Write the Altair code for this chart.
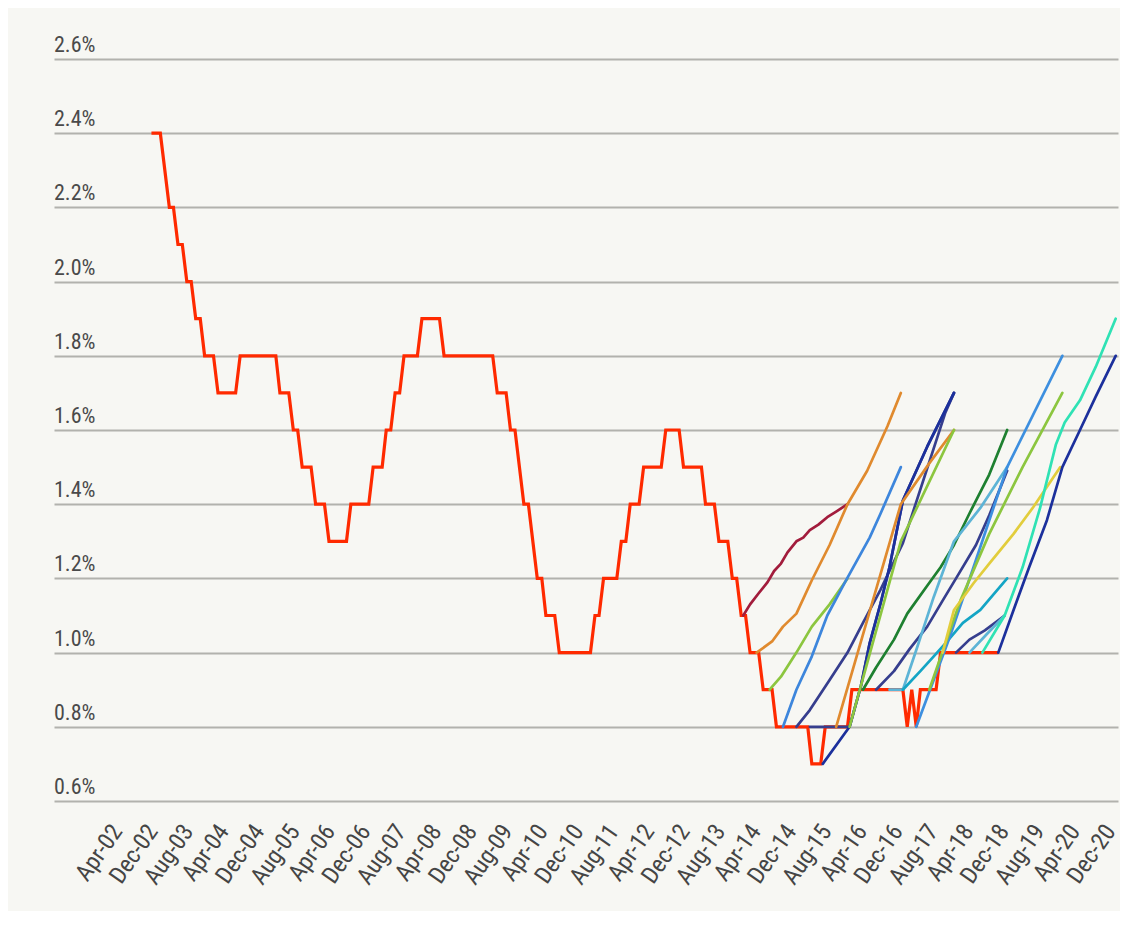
import altair as alt
import pandas as pd

# ---------------- axis values ----------------
y_ticks = [0.6, 0.8, 1.0, 1.2, 1.4, 1.6, 1.8, 2.0, 2.2, 2.4, 2.6]
y_tick_labels = ["0.6%", "0.8%", "1.0%", "1.2%", "1.4%", "1.6%", "1.8%", "2.0%", "2.2%", "2.4%", "2.6%"]

x_label_dates = ["2002-04-01", "2002-12-01", "2003-08-01", "2004-04-01", "2004-12-01", "2005-08-01",
                 "2006-04-01", "2006-12-01", "2007-08-01", "2008-04-01", "2008-12-01", "2009-08-01",
                 "2010-04-01", "2010-12-01", "2011-08-01", "2012-04-01", "2012-12-01", "2013-08-01",
                 "2014-04-01", "2014-12-01", "2015-08-01", "2016-04-01", "2016-12-01", "2017-08-01",
                 "2018-04-01", "2018-12-01", "2019-08-01", "2020-04-01", "2020-12-01"]

# ---------------- actual series (red step line, vertices) ----------------
actual_dates = ["2002-10-01", "2002-12-01", "2003-02-01", "2003-03-01", "2003-04-01", "2003-05-01",
                "2003-06-01", "2003-07-01", "2003-08-01", "2003-09-01", "2003-10-01", "2003-12-01",
                "2004-01-01", "2004-05-01", "2004-06-01", "2005-02-01", "2005-03-01", "2005-05-01",
                "2005-06-01", "2005-07-01", "2005-08-01", "2005-10-01", "2005-11-01", "2006-01-01",
                "2006-02-01", "2006-06-01", "2006-07-01", "2006-11-01", "2006-12-01", "2007-02-01",
                "2007-03-01", "2007-04-01", "2007-05-01", "2007-06-01", "2007-07-01", "2007-10-01",
                "2007-11-01", "2008-03-01", "2008-04-01", "2009-03-01", "2009-04-01", "2009-06-01",
                "2009-07-01", "2009-08-01", "2009-10-01", "2009-11-01", "2010-01-01", "2010-02-01",
                "2010-03-01", "2010-05-01", "2010-06-01", "2011-01-01", "2011-02-01", "2011-03-01",
                "2011-04-01", "2011-07-01", "2011-08-01", "2011-09-01", "2011-10-01", "2011-12-01",
                "2012-01-01", "2012-05-01", "2012-06-01", "2012-09-01", "2012-10-01", "2013-02-01",
                "2013-03-01", "2013-05-01", "2013-06-01", "2013-08-01", "2013-09-01", "2013-10-01",
                "2013-11-01", "2013-12-01", "2014-01-01", "2014-03-01", "2014-04-01", "2014-06-01",
                "2014-07-01", "2015-02-01", "2015-03-01", "2015-05-01", "2015-06-01", "2015-11-01",
                "2015-12-01", "2016-11-15", "2016-12-15", "2017-01-15", "2017-02-15", "2017-03-15",
                "2017-07-01", "2017-08-01", "2018-09-01"]
actual_values = [2.4, 2.4, 2.2, 2.2, 2.1, 2.1,
                 2.0, 2.0, 1.9, 1.9, 1.8, 1.8,
                 1.7, 1.7, 1.8, 1.8, 1.7, 1.7,
                 1.6, 1.6, 1.5, 1.5, 1.4, 1.4,
                 1.3, 1.3, 1.4, 1.4, 1.5, 1.5,
                 1.6, 1.6, 1.7, 1.7, 1.8, 1.8,
                 1.9, 1.9, 1.8, 1.8, 1.7, 1.7,
                 1.6, 1.6, 1.4, 1.4, 1.2, 1.2,
                 1.1, 1.1, 1.0, 1.0, 1.1, 1.1,
                 1.2, 1.2, 1.3, 1.3, 1.4, 1.4,
                 1.5, 1.5, 1.6, 1.6, 1.5, 1.5,
                 1.4, 1.4, 1.3, 1.3, 1.2, 1.2,
                 1.1, 1.1, 1.0, 1.0, 0.9, 0.9,
                 0.8, 0.8, 0.7, 0.7, 0.8, 0.8,
                 0.9, 0.9, 0.8, 0.9, 0.8, 0.9,
                 0.9, 1.0, 1.0]

# ---------------- forecast paths ----------------
fc01_dates = ["2013-11-15", "2014-01-01", "2014-03-01", "2014-05-01", "2014-06-15", "2014-08-01", "2014-09-15",
              "2014-11-15", "2015-01-01", "2015-02-15", "2015-04-15", "2015-06-15", "2015-08-15", "2015-11-01"]
fc01_values = [1.1, 1.13, 1.16, 1.19, 1.22, 1.24, 1.27, 1.30, 1.31, 1.33, 1.345, 1.365, 1.38, 1.40]

fc02_dates = ["2014-02-15", "2014-06-01", "2014-08-15", "2014-11-15", "2015-03-01", "2015-07-01", "2015-11-01",
              "2016-03-15", "2016-08-01", "2016-11-01"]
fc02_values = [1.0, 1.03, 1.07, 1.105, 1.195, 1.29, 1.40, 1.49, 1.61, 1.70]

fc03_dates = ["2014-05-15", "2014-08-01", "2014-11-15", "2015-03-01", "2015-07-01", "2015-11-01"]
fc03_values = [0.9, 0.935, 1.0, 1.07, 1.13, 1.2]

fc04_dates = ["2014-08-15", "2014-11-15", "2015-03-01", "2015-06-15", "2015-10-15", "2016-04-01", "2016-06-15", "2016-11-01"]
fc04_values = [0.8, 0.9, 0.99, 1.10, 1.19, 1.31, 1.375, 1.5]

fc05_dates = ["2014-11-15", "2015-02-15", "2015-07-01", "2015-11-01", "2016-02-15", "2016-06-15", "2016-11-15",
              "2017-09-01", "2017-11-01"]
fc05_values = [0.8, 0.845, 0.926, 1.0, 1.08, 1.17, 1.295, 1.645, 1.7]

fc06_dates = ["2015-02-15", "2015-11-15", "2016-02-01", "2016-04-01", "2016-06-15", "2016-08-15", "2016-11-15",
              "2017-05-01", "2017-11-01"]
fc06_values = [0.8, 0.8, 0.91, 1.025, 1.133, 1.23, 1.41, 1.555, 1.7]

fc07_dates = ["2015-05-15", "2015-11-15", "2016-02-01", "2016-04-01", "2016-06-15", "2016-08-15", "2016-11-15",
              "2017-05-01", "2017-11-01"]
fc07_values = [0.7, 0.8, 0.91, 1.025, 1.133, 1.23, 1.41, 1.555, 1.7]

fc08_dates = ["2015-08-15", "2016-11-01", "2017-05-15", "2017-11-01"]
fc08_values = [0.8, 1.40, 1.51, 1.6]

fc09_dates = ["2015-11-15", "2016-11-01", "2017-11-01"]
fc09_values = [0.8, 1.3, 1.6]

fc10_dates = ["2016-02-15", "2016-05-15", "2016-09-15", "2016-12-15", "2017-05-01", "2017-08-01", "2017-11-01",
              "2018-02-15", "2018-07-01", "2018-11-01"]
fc10_values = [0.9, 0.96, 1.035, 1.105, 1.18, 1.23, 1.29, 1.375, 1.48, 1.6]

fc11_dates = ["2016-05-15", "2016-09-15", "2017-01-01", "2017-05-01", "2017-08-15", "2017-11-15", "2018-04-01",
              "2018-07-01", "2018-11-01"]
fc11_values = [0.9, 0.95, 1.01, 1.07, 1.14, 1.2, 1.29, 1.37, 1.49]

fc12_dates = ["2016-08-15", "2016-11-15", "2017-02-15", "2017-06-15", "2017-11-01", "2018-05-01", "2018-11-01"]
fc12_values = [0.9, 0.9, 1.007, 1.15, 1.3, 1.39, 1.5]

fc13_dates = ["2016-11-15", "2017-03-15", "2017-06-15", "2017-09-15", "2018-01-01", "2018-05-01", "2018-11-01"]
fc13_values = [0.9, 0.95, 0.99, 1.03, 1.08, 1.115, 1.2]

fc14_dates = ["2017-02-15", "2017-10-01", "2018-03-15", "2018-11-01", "2019-11-15"]
fc14_values = [0.8, 1.04, 1.23, 1.5, 1.8]

fc15_dates = ["2017-05-15", "2017-12-15", "2018-07-01", "2019-02-15", "2019-11-15"]
fc15_values = [0.9, 1.14, 1.32, 1.5, 1.7]

fc16_dates = ["2017-08-15", "2017-11-01", "2018-03-15", "2018-07-01", "2018-12-15", "2019-05-01", "2019-11-01"]
fc16_values = [1.0, 1.115, 1.187, 1.24, 1.32, 1.393, 1.5]

fc17_dates = ["2017-11-15", "2018-02-15", "2018-06-01", "2018-10-15"]
fc17_values = [1.0, 1.035, 1.06, 1.1]

fc18_dates = ["2018-02-15", "2018-06-15", "2018-10-15"]
fc18_values = [1.0, 1.05, 1.1]

fc19_dates = ["2018-05-15", "2018-10-15", "2019-02-15", "2019-06-15", "2019-10-01", "2019-12-01", "2020-03-15",
              "2020-07-01", "2020-11-15"]
fc19_values = [1.0, 1.1, 1.23, 1.39, 1.56, 1.62, 1.68, 1.77, 1.9]

fc20_dates = ["2018-09-01", "2018-12-15", "2019-04-01", "2019-08-01", "2019-11-15", "2020-03-15", "2020-07-01", "2020-11-15"]
fc20_values = [1.0, 1.115, 1.23, 1.357, 1.5, 1.6, 1.69, 1.8]

forecast_names = ["fc01", "fc02", "fc03", "fc04", "fc05", "fc06", "fc07", "fc08", "fc09", "fc10",
                  "fc11", "fc12", "fc13", "fc14", "fc15", "fc16", "fc17", "fc18", "fc19", "fc20"]
forecast_colors = ["#a21c3c", "#e08a2e", "#8cc63f", "#3d86dc", "#363e8e", "#363e8e", "#1c309c", "#e08a2e",
                   "#8cc63f", "#1e8030", "#363e8e", "#5db4d6", "#14a5c5", "#3d8fdf", "#8cc63f", "#e2cd3c",
                   "#363e8e", "#5db4d6", "#2fe2b4", "#1c309c"]
forecast_dates = [fc01_dates, fc02_dates, fc03_dates, fc04_dates, fc05_dates, fc06_dates, fc07_dates,
                  fc08_dates, fc09_dates, fc10_dates, fc11_dates, fc12_dates, fc13_dates, fc14_dates,
                  fc15_dates, fc16_dates, fc17_dates, fc18_dates, fc19_dates, fc20_dates]
forecast_values = [fc01_values, fc02_values, fc03_values, fc04_values, fc05_values, fc06_values, fc07_values,
                   fc08_values, fc09_values, fc10_values, fc11_values, fc12_values, fc13_values, fc14_values,
                   fc15_values, fc16_values, fc17_values, fc18_values, fc19_values, fc20_values]

# ---------------- tables ----------------
actual_df = pd.DataFrame({"date": actual_dates, "value": actual_values, "i": range(len(actual_dates))})

rows = []
for name, ds, vs in zip(forecast_names, forecast_dates, forecast_values):
    for j, (d, v) in enumerate(zip(ds, vs)):
        rows.append({"series": name, "date": d, "value": v, "i": j})
fc_df = pd.DataFrame(rows)

ylab_df = pd.DataFrame({"value": y_ticks, "label": y_tick_labels})


def to_ms(s):
    return int(pd.Timestamp(s, tz="UTC").value // 10**6)


x_tick_ms = [to_ms(d) for d in x_label_dates]
x_domain = [to_ms("2000-12-01"), to_ms("2020-12-01")]

FONT = "Liberation Sans Narrow, Roboto Condensed, DejaVu Sans Condensed, Liberation Sans, sans-serif"

x_axis = alt.Axis(
    values=x_tick_ms,
    labelExpr="utcFormat(datum.value, '%b-%y')",
    labelAngle=-55,
    labelAlign="right",
    labelBaseline="alphabetic",
    labelPadding=30,
    labelOffset=-2,
    labelFontSize=24,
    labelFont=FONT,
    labelColor="#454545",
    labelOverlap=False,
    labelBound=False,
    labelFlush=False,
    grid=False,
    ticks=False,
    domain=False,
    title=None,
)
x_scale = alt.Scale(type="utc", domain=x_domain, nice=False)
x_enc = alt.X("date:T", scale=x_scale, axis=x_axis)

y_scale = alt.Scale(domain=[0.6, 2.6], nice=False, zero=False)
y_axis = alt.Axis(
    values=y_ticks,
    grid=True,
    gridColor="#b2b2ad",
    gridWidth=2,
    labels=False,
    ticks=False,
    domain=False,
    title=None,
)
y_enc = alt.Y("value:Q", scale=y_scale, axis=y_axis)

actual_line = alt.Chart(actual_df).mark_line(
    color="#ff2a00", strokeWidth=3.2, strokeJoin="miter", strokeCap="butt"
).encode(x=x_enc, y=y_enc, order="i:Q")

fc_lines = alt.Chart(fc_df).mark_line(strokeWidth=2.7, strokeJoin="round", strokeCap="round").encode(
    x=x_enc,
    y=y_enc,
    color=alt.Color("series:N", scale=alt.Scale(domain=forecast_names, range=forecast_colors), legend=None),
    detail="series:N",
    order="i:Q",
)

y_labels = alt.Chart(ylab_df).mark_text(
    align="left", baseline="alphabetic", dy=-7, fontSize=22, font=FONT, color="#4a4a4a"
).encode(x=alt.value(0), y=alt.Y("value:Q", scale=y_scale, axis=y_axis), text="label:N")

chart = alt.layer(actual_line, fc_lines, y_labels).properties(
    width=1064,
    height=742,
    background="#f7f7f3",
    padding={"left": 46, "top": 51, "right": 2, "bottom": 110},
    autosize=alt.AutoSizeParams(type="none"),
).configure_view(stroke=None).configure_axisX(labelOverlap=False)

chart.save("out.html", embed_options={"renderer": "svg", "actions": False})
